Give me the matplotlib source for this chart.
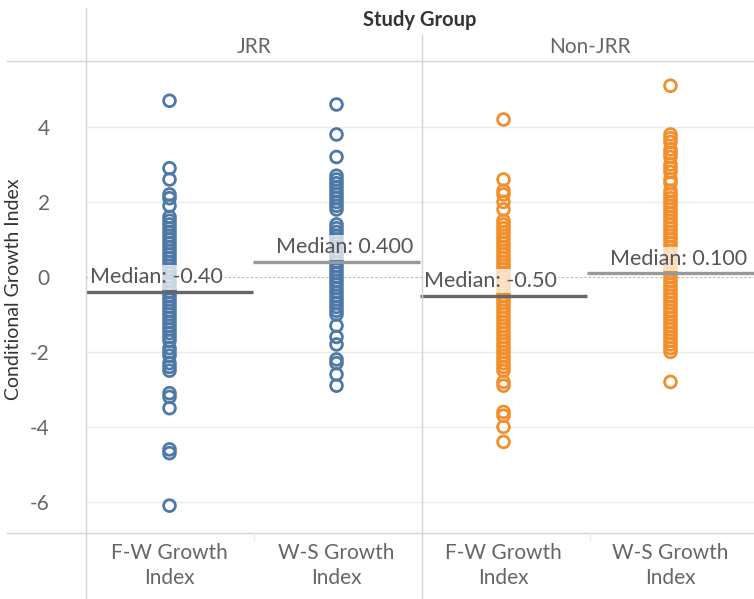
import numpy as np
import matplotlib.pyplot as plt
from matplotlib.lines import Line2D

plt.rcParams['font.family'] = ['Lato', 'DejaVu Sans']

# groups and measures
groups = ["JRR", "Non-JRR"]
measures = ["F-W Growth\nIndex", "W-S Growth\nIndex"]
colors = ["#4e79a7", "#f28e2b"]

# conditional growth index values (one list per column)
jrr_fw = [4.7, 2.9, 2.6, 2.2, 2.1, 1.9, 1.6, 1.5, 1.4, 1.3, 1.2, 1.1, 1.0, 0.9,
          0.8, 0.7, 0.6, 0.5, 0.4, 0.3, 0.2, 0.1, 0.0, -0.1, -0.2, -0.3, -0.4,
          -0.4, -0.5, -0.6, -0.7, -0.8, -0.9, -1.0, -1.1, -1.2, -1.3, -1.4,
          -1.5, -1.6, -1.7, -1.9, -2.0, -2.1, -2.3, -2.4, -2.5, -3.1, -3.2,
          -3.5, -4.6, -4.7, -6.1]
jrr_ws = [4.6, 3.8, 3.2, 2.7, 2.6, 2.5, 2.4, 2.3, 2.2, 2.1, 2.0, 1.9, 1.8, 1.4,
          1.3, 1.2, 1.1, 1.0, 0.9, 0.8, 0.7, 0.6, 0.5, 0.4, 0.3, 0.2, 0.1, 0.0,
          -0.1, -0.2, -0.3, -0.4, -0.5, -0.6, -0.7, -0.8, -0.9, -1.0, -1.3,
          -1.6, -1.8, -2.2, -2.3, -2.6, -2.9]
non_fw = [4.2, 2.6, 2.3, 2.2, 2.0, 1.8, 1.5, 1.4, 1.3, 1.2, 1.1, 1.0, 0.9, 0.8,
          0.7, 0.6, 0.5, 0.4, 0.3, 0.2, 0.1, 0.0, -0.1, -0.2, -0.3, -0.4, -0.5,
          -0.6, -0.7, -0.8, -0.9, -1.0, -1.1, -1.2, -1.3, -1.4, -1.5, -1.6,
          -1.7, -1.8, -1.9, -2.0, -2.1, -2.2, -2.3, -2.4, -2.5, -2.8, -2.9,
          -3.6, -3.7, -4.0, -4.4]
non_ws = [5.1, 3.8, 3.7, 3.6, 3.4, 3.3, 3.2, 3.0, 2.9, 2.8, 2.6, 2.5, 2.3, 2.2,
          2.1, 2.0, 1.9, 1.8, 1.7, 1.6, 1.5, 1.4, 1.3, 1.2, 1.1, 1.0, 0.9, 0.8,
          0.7, 0.6, 0.5, 0.4, 0.3, 0.2, 0.1, 0.0, -0.1, -0.2, -0.3, -0.4, -0.5,
          -0.6, -0.7, -0.8, -0.9, -1.0, -1.1, -1.2, -1.3, -1.4, -1.5, -1.6,
          -1.7, -1.8, -1.9, -2.0, -2.8]
columns = [jrr_fw, jrr_ws, non_fw, non_ws]
col_group = [0, 0, 1, 1]

medians = [-0.40, 0.40, -0.50, 0.10]
median_labels = ["Median: -0.40", "Median: 0.400", "Median: -0.50", "Median: 0.100"]
median_colors = ["#666666", "#999999", "#666666", "#999999"]
label_align = ["left", "right", "left", "right"]

W, H = 754, 599
fig = plt.figure(figsize=(W / 100, H / 100), dpi=100)
ax = fig.add_axes([86 / W, 1 - 533 / H, (754 - 86) / W, (533 - 61) / H])

ax.set_xlim(-0.5, 3.5)
ax.set_ylim(-6.83, 5.76)

# grid
for v in [-6, -4, -2, 2, 4]:
    ax.axhline(v, color="#ececec", lw=1, zorder=0)
ax.axhline(0, color="#b8b8b8", lw=0.8, ls=(0, (2, 2)), zorder=0)

for i, vals in enumerate(columns):
    ax.scatter(np.full(len(vals), i), vals, s=72, facecolors="none",
               edgecolors=colors[col_group[i]], linewidths=2.0, zorder=2)
    ax.plot([i - 0.5, i + 0.5], [medians[i], medians[i]], color=median_colors[i],
            lw=2.4, zorder=3, solid_capstyle="butt")
    if label_align[i] == "left":
        tx = i - 0.475
    else:
        tx = i + 0.46
    ax.text(tx, medians[i] + 0.12, median_labels[i], ha=label_align[i], va="bottom",
            fontsize=15.5, color="#555555", zorder=4,
            bbox=dict(boxstyle="square,pad=0.1", facecolor="white", alpha=0.7,
                      edgecolor="none"))

ax.set_xticks(range(4))
ax.set_xticklabels(measures * 2, fontsize=15, color="#666666", linespacing=1.35)
ax.set_yticks([-6, -4, -2, 0, 2, 4])
ax.set_yticklabels(["-6", "-4", "-2", "0", "2", "4"], fontsize=15, color="#666666")
ax.tick_params(axis="x", length=0, pad=7)
ax.tick_params(axis="y", length=0, pad=26)
ax.set_ylabel("Conditional Growth Index", fontsize=14, color="#333333")
ax.yaxis.set_label_coords((22 - 86) / (754 - 86), (533 - 289) / (533 - 61))
for s in ax.spines.values():
    s.set_visible(False)

# table-like frame lines in figure pixels
def fline(x0, y0, x1, y1, c="#d3d3d3", lw=1.0):
    fig.add_artist(Line2D([x0 / W, x1 / W], [1 - y0 / H, 1 - y1 / H],
                          color=c, lw=lw, transform=fig.transFigure))

fline(86, 8, 86, 599)
fline(422, 35, 422, 599)
fline(7, 61, 754, 61)
fline(7, 533, 754, 533)
fline(254, 533, 254, 541, c="#ececec")
fline(590, 533, 590, 541, c="#ececec")

# headers
fig.text(420 / W, 1 - 20 / H, "Study Group", ha="center", va="center",
         fontsize=14.5, fontweight="bold", color="#333333")
for j, g in enumerate(groups):
    fig.text((254 + 336 * j) / W, 1 - 47 / H, g, ha="center", va="center",
             fontsize=15, color="#666666")

fig.savefig("out.png", dpi=100)
